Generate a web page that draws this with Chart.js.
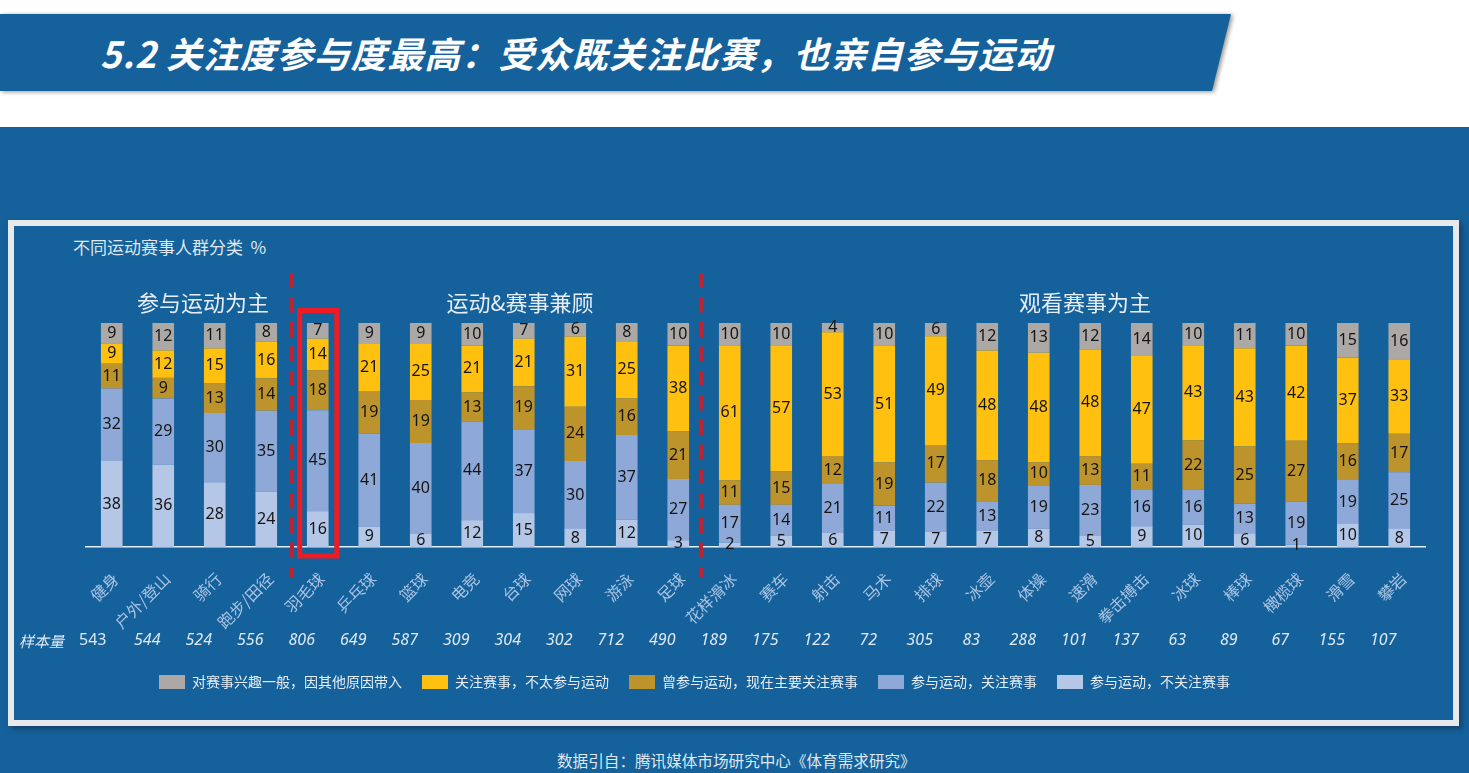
<!DOCTYPE html>
<html lang="zh">
<head>
<meta charset="utf-8">
<title>5.2 关注度参与度最高</title>
<script src="https://cdn.jsdelivr.net/npm/chart.js@4"></script>
<style>
    html, body { margin: 0; padding: 0; background: #fff; overflow: hidden; }
    body { width: 1469px; height: 773px; position: relative; font-family: "Noto Sans CJK SC", "Noto Sans", sans-serif; }
    .banner-wrap { position: absolute; left: 0; top: 14px; filter: drop-shadow(2px 1px 2px rgba(60,60,60,.55)); }
    .banner { width: 1231px; height: 77px; background: #15619b; clip-path: polygon(0 0, 100% 0, 1212px 100%, 0 100%); }
    .banner-title { position: absolute; left: 100px; top: 14px; line-height: 77px; font-size: 36px; letter-spacing: 0.9px; font-weight: 700; font-style: italic; color: #fff; white-space: nowrap; }
    .back { position: absolute; left: 0; top: 127px; width: 1469px; height: 646px; background: #15619b; }
    .panel { position: absolute; left: 8px; top: 220px; width: 1439px; height: 494px; border: 6px solid #e8e9ea; box-shadow: 3px 3px 5px rgba(20,40,70,.55); }
    .subtitle { position: absolute; left: 73px; top: 236px; font-size: 17px; line-height: 22px; color: #dfe8f2; white-space: nowrap; }
    .source { position: absolute; left: 557px; top: 749px; font-size: 15.6px; line-height: 22px; color: #dfe8f2; white-space: nowrap; }
    #chart { position: absolute; left: 0; top: 0; }
</style>
</head>
<body>
<div class="back"></div>
<div class="banner-wrap"><div class="banner"></div></div>
<div class="banner-title">5.2 关注度参与度最高：受众既关注比赛，也亲自参与运动</div>
<div class="panel"></div>
<div class="subtitle">不同运动赛事人群分类&nbsp;&nbsp;%</div>
<div class="source">数据引自：腾讯媒体市场研究中心《体育需求研究》</div>
<canvas id="chart" width="1469" height="773"></canvas>

<script>
const categories = ['健身', '户外/登山', '骑行', '跑步/田径', '羽毛球', '乒乓球', '篮球', '电竞', '台球', '网球', '游泳', '足球', '花样滑冰', '赛车', '射击', '马术', '排球', '冰壶', '体操', '速滑', '拳击搏击', '冰球', '棒球', '橄榄球', '滑雪', '攀岩'];
const sampleSizes = [543, 544, 524, 556, 806, 649, 587, 309, 304, 302, 712, 490, 189, 175, 122, 72, 305, 83, 288, 101, 137, 63, 89, 67, 155, 107];

const notInterested = [9, 12, 11, 8, 7, 9, 9, 10, 7, 6, 8, 10, 10, 10, 4, 10, 6, 12, 13, 12, 14, 10, 11, 10, 15, 16];
const watchOnly = [9, 12, 15, 16, 14, 21, 25, 21, 21, 31, 25, 38, 61, 57, 53, 51, 49, 48, 48, 48, 47, 43, 43, 42, 37, 33];
const formerPlayer = [11, 9, 13, 14, 18, 19, 19, 13, 19, 24, 16, 21, 11, 15, 12, 19, 17, 18, 10, 13, 11, 22, 25, 27, 16, 17];
const playAndWatch = [32, 29, 30, 35, 45, 41, 40, 44, 37, 30, 37, 27, 17, 14, 21, 11, 22, 13, 19, 23, 16, 16, 13, 19, 19, 25];
const playOnly = [38, 36, 28, 24, 16, 9, 6, 12, 15, 8, 12, 3, 2, 5, 6, 7, 7, 7, 8, 5, 9, 10, 6, 1, 10, 8];

const groupTitles = ['参与运动为主', '运动&赛事兼顾', '观看赛事为主'];

const CJK_FONT = '"Noto Sans CJK SC", "Noto Sans", sans-serif';

// 原图是 100% 堆积，每列合计不一定正好 100，这里换算成占比，标签仍显示原值
const series = [playOnly, playAndWatch, formerPlayer, watchOnly, notInterested];
const totals = categories.map((c, i) => series.reduce((sum, s) => sum + s[i], 0));
const toShare = values => values.map((v, i) => v / totals[i] * 100);

function makeDataset(label, values, color) {
    return {
        label: label,
        data: toShare(values),
        rawValues: values,
        backgroundColor: color,
        borderWidth: 0,
        categoryPercentage: 1,
        barPercentage: 0.42
    };
}

const annotations = {
    id: 'annotations',
    afterLayout(chart) {
        // 图例整体偏左，不在绘图区正中
        chart.legend.left -= 61;
        chart.legend.right -= 61;
    },
    afterDatasetsDraw(chart) {
        const { ctx, scales: { x } } = chart;
        ctx.save();

        // 柱内数值
        ctx.font = '16px "Noto Sans", sans-serif';
        ctx.fillStyle = '#141414';
        ctx.textAlign = 'center';
        ctx.textBaseline = 'middle';
        chart.data.datasets.forEach((ds, d) => {
            chart.getDatasetMeta(d).data.forEach((bar, i) => {
                ctx.fillText(ds.rawValues[i], bar.x, (bar.y + bar.base) / 2);
            });
        });

        // 分组标题
        ctx.font = '22px ' + CJK_FONT;
        ctx.fillStyle = '#e6edf5';
        ctx.fillText(groupTitles[0], 203, 303);
        ctx.fillText(groupTitles[1], 520, 303);
        ctx.fillText(groupTitles[2], 1085, 303);

        // 样本量
        ctx.fillStyle = '#dfe8f2';
        ctx.font = 'italic 15px ' + CJK_FONT;
        ctx.textAlign = 'left';
        ctx.fillText('样本量', 19, 641);
        ctx.textAlign = 'center';
        sampleSizes.forEach((n, i) => {
            ctx.font = (i === 0 ? '' : 'italic ') + '16px "Noto Sans", sans-serif';
            ctx.fillText(n, x.getPixelForValue(i) - (i === 0 ? 19 : 16), 640);
        });

        // 分组虚线
        ctx.strokeStyle = '#c0212f';
        ctx.lineWidth = 4;
        ctx.setLineDash([15, 9.5]);
        [3.5, 11.44].forEach(pos => {
            const px = x.getPixelForValue(pos);
            ctx.beginPath();
            ctx.moveTo(px, 273);
            ctx.lineTo(px, 578);
            ctx.stroke();
        });

        // 羽毛球高亮框
        ctx.setLineDash([]);
        ctx.strokeStyle = '#ed1c24';
        ctx.lineWidth = 5;
        const cx = x.getPixelForValue(categories.indexOf('羽毛球'));
        ctx.strokeRect(cx - 18, 310.5, 37, 245.5);
        ctx.restore();
    }
};

new Chart(document.getElementById('chart'), {
    type: 'bar',
    data: {
        labels: categories,
        datasets: [
            makeDataset('参与运动，不关注赛事', playOnly, '#b4c7e7'),
            makeDataset('参与运动，关注赛事', playAndWatch, '#8ea9d8'),
            makeDataset('曾参与运动，现在主要关注赛事', formerPlayer, '#bd932b'),
            makeDataset('关注赛事，不太参与运动', watchOnly, '#ffc00f'),
            makeDataset('对赛事兴趣一般，因其他原因带入', notInterested, '#aca8a5')
        ]
    },
    options: {
        responsive: false,
        animation: false,
        layout: { padding: { left: 86, right: 44, top: 323, bottom: 74 } },
        plugins: {
            tooltip: { enabled: false },
            legend: {
                position: 'bottom',
                reverse: true,
                labels: {
                    boxWidth: 26,
                    boxHeight: 14,
                    padding: 20,
                    color: '#e6edf5',
                    font: { family: CJK_FONT, size: 14 }
                }
            }
        },
        scales: {
            x: {
                stacked: true,
                grid: { display: false, drawTicks: false },
                border: { display: true, color: '#e6eef5', width: 1.5 },
                afterFit: scale => { scale.height = 108; },
                ticks: {
                    autoSkip: false,
                    maxRotation: 45,
                    minRotation: 45,
                    padding: 22,
                    labelOffset: 4,
                    color: '#aac3e2',
                    font: { family: CJK_FONT, size: 16 }
                }
            },
            y: {
                stacked: true,
                display: false,
                min: 0,
                max: 100
            }
        }
    },
    plugins: [annotations]
});
</script>
</body>
</html>
